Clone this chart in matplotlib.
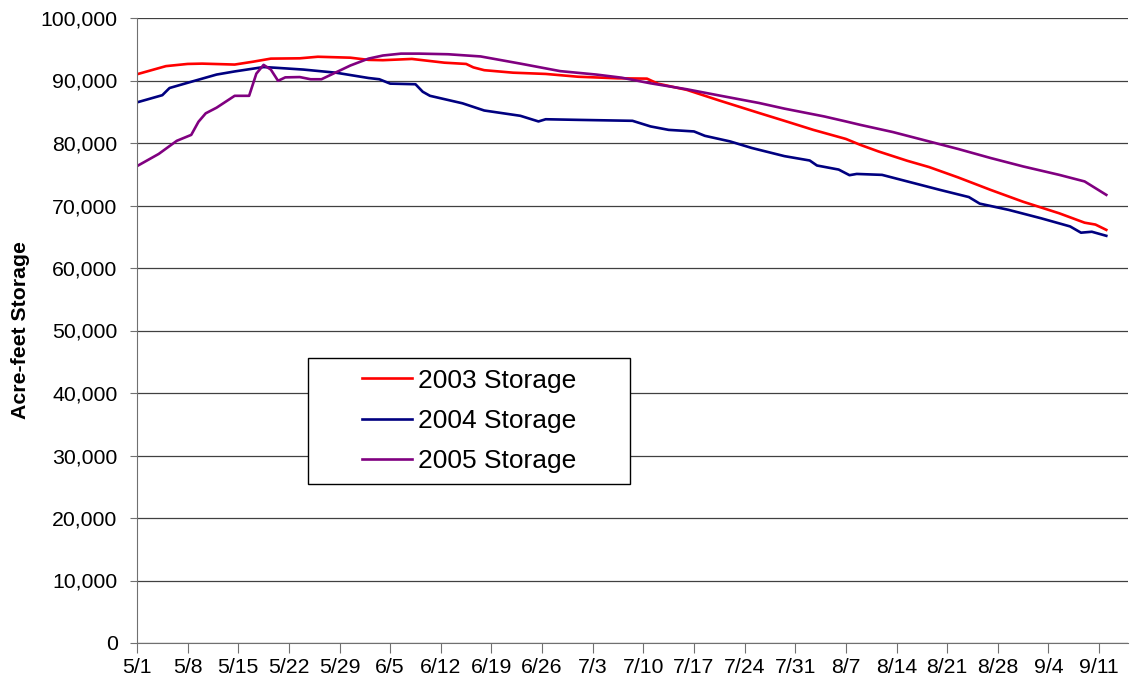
import matplotlib
matplotlib.use("Agg")
import matplotlib.pyplot as plt
from matplotlib.patches import Rectangle
from matplotlib.ticker import FuncFormatter

plt.rcParams["font.family"] = ["Liberation Sans", "DejaVu Sans"]

# days since 5/1 and acre-feet
days_2003 = [0, 4, 7, 9, 13.5, 16, 18.5, 22.5, 25, 29.5, 32, 34, 38, 42.5, 45.5,
             46.5, 48, 52, 56.5, 61, 66.5, 70.5, 72, 76, 80.5, 86, 89.5, 93.5, 98,
             100, 102.5, 106.5, 109.5, 113.5, 118, 122.5, 127.5, 131, 132.5, 134]
storage_2003 = [91000, 92300, 92650, 92700, 92550, 93000, 93500, 93550, 93800, 93650,
                93300, 93250, 93450, 92850, 92650, 92100, 91650, 91250, 91050, 90600,
                90350, 90300, 89500, 88500, 86800, 84800, 83550, 82100, 80650, 79700,
                78650, 77150, 76150, 74500, 72500, 70600, 68750, 67250, 66950, 66100]

days_2004 = [0, 3.5, 4.5, 7.5, 11, 13.5, 17.5, 19, 23, 27.5, 32, 33.5, 35, 38.5,
             39.5, 40.5, 45, 48, 53, 55.5, 56.5, 61, 68.5, 71, 73.5, 77, 78.5, 82,
             85, 89.5, 93, 94, 97, 98.5, 99.5, 103, 106.5, 111, 115, 116.5, 120.5,
             125, 129, 130.5, 132, 134]
storage_2004 = [86500, 87650, 88800, 89800, 90950, 91450, 92150, 92050, 91750, 91250,
                90400, 90200, 89500, 89400, 88200, 87550, 86350, 85200, 84350, 83450,
                83800, 83700, 83550, 82650, 82100, 81850, 81150, 80250, 79200, 77900,
                77200, 76400, 75750, 74850, 75050, 74900, 73850, 72500, 71350, 70300,
                69300, 67950, 66650, 65650, 65800, 65150]

days_2005 = [0, 3, 5.5, 7.5, 8.5, 9.5, 11, 13.5, 15.5, 16.5, 17.5, 18.5, 19.5, 20.5,
             22.5, 24, 25.5, 27.5, 29.5, 32, 34, 36.5, 39, 43, 47.5, 53, 58.5, 63.5,
             67, 71, 76, 80.5, 86, 89.5, 95, 98, 100, 104.5, 109, 113.5, 118, 122.5,
             127.5, 131, 134]
storage_2005 = [76300, 78250, 80350, 81300, 83400, 84750, 85650, 87550, 87550, 91100,
                92500, 91750, 89950, 90500, 90550, 90200, 90200, 91300, 92400, 93500,
                94000, 94300, 94300, 94200, 93850, 92700, 91500, 90950, 90450, 89550,
                88600, 87600, 86400, 85500, 84250, 83450, 82900, 81750, 80400, 79050,
                77600, 76250, 74900, 73850, 71700]

tick_labels = ["5/1", "5/8", "5/15", "5/22", "5/29", "6/5", "6/12", "6/19", "6/26",
               "7/3", "7/10", "7/17", "7/24", "7/31", "8/7", "8/14", "8/21", "8/28",
               "9/4", "9/11"]
tick_days = [7 * i for i in range(len(tick_labels))]

W, H = 1137, 692
fig = plt.figure(figsize=(W / 100, H / 100), dpi=100)
ax = fig.add_axes([137 / W, 1 - 643 / H, 991 / W, 625 / H])

ax.plot(days_2003, storage_2003, color="#ff0000", lw=1.9, label="2003 Storage")
ax.plot(days_2004, storage_2004, color="#000080", lw=1.9, label="2004 Storage")
ax.plot(days_2005, storage_2005, color="#800080", lw=1.9, label="2005 Storage")

ax.set_xlim(0, 137)
ax.set_ylim(0, 100000)
ax.set_yticks(range(0, 100001, 10000))
ax.yaxis.set_major_formatter(FuncFormatter(lambda v, _: f"{int(v):,}"))
ax.set_xticks(tick_days)
ax.set_xticklabels(tick_labels)

ax.grid(axis="y", color="#404040", lw=0.9)
ax.set_axisbelow(True)
for side in ("top", "right"):
    ax.spines[side].set_visible(False)
for side in ("left", "bottom"):
    ax.spines[side].set_color("#707070")
ax.tick_params(axis="y", direction="out", length=5, color="#707070",
               labelsize=15.3, pad=9)
ax.tick_params(axis="x", direction="out", length=7, color="#707070",
               labelsize=15.3, pad=4)

ax.set_ylabel("Acre-feet Storage", fontsize=15.3, fontweight="bold")
ax.yaxis.set_label_coords(-0.108, 0.5)

# Excel-style legend box, wider than its contents
box = Rectangle((308 / W, 1 - 484 / H), 322 / W, 126 / H, transform=fig.transFigure,
                facecolor="white", edgecolor="black", lw=1, zorder=4, clip_on=False)
ax.add_artist(box)
leg = ax.legend(loc="center", bbox_to_anchor=(469 / W, 1 - 421 / H),
                bbox_transform=fig.transFigure, frameon=False, fontsize=19,
                handlelength=1.9, handletextpad=0.25, labelspacing=0.62)
leg.set_zorder(5)

fig.savefig("out.png", dpi=100)
plt.close(fig)
